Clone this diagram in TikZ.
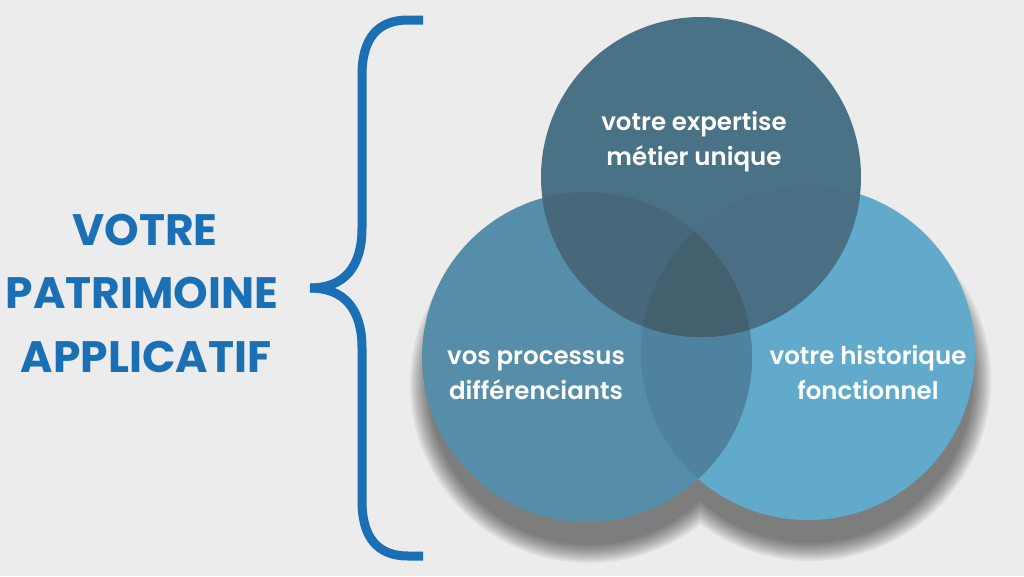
\documentclass[tikz,border=0pt]{standalone}
\usepackage{fontspec}
\setmainfont{Poppins}
\newfontfamily\semi{Poppins SemiBold}
\definecolor{bgc}{HTML}{ECECEC}
\definecolor{bluec}{HTML}{1B6FB5}
\definecolor{cT}{HTML}{4A7287}
\definecolor{cL}{HTML}{568EA9}
\definecolor{cR}{HTML}{61AACB}
\definecolor{cTL}{HTML}{46687A}
\definecolor{cTR}{HTML}{4A6F84}
\definecolor{cLR}{HTML}{4F829E}
\definecolor{cTLR}{HTML}{43606F}
\begin{document}
\begin{tikzpicture}[x=1pt,y=-1pt,
  captext/.style={text=bluec,font=\fontsize{44}{50}\selectfont\bfseries,anchor=base,inner sep=0pt},
  ctext/.style={text=white,font=\semi\fontsize{24.5}{28}\selectfont,anchor=base,inner sep=0pt},
  bracepath/.style={draw=bluec,line width=9pt,line cap=butt}]
\useasboundingbox (0,0) rectangle (1024,576);
\fill[bgc] (0,0) rectangle (1024,576);
\coordinate (oT) at (701,177);
\coordinate (oL) at (587,357);
\coordinate (oR) at (808,353);
% shadow
\foreach \e in {14,12,...,-4}{
  \fill[black,opacity=0.06] (589,384) circle[radius={(165+\e)*1pt}] (810,380) circle[radius={(167+\e)*1pt}];
}
% circles
\fill[cR] (oR) circle[radius=167pt];
\fill[cL] (oL) circle[radius=165pt];
\fill[cT] (oT) circle[radius=160pt];
\begin{scope}
  \clip (oL) circle[radius=165pt];
  \fill[cLR] (oR) circle[radius=167pt];
\end{scope}
\begin{scope}
  \clip (oT) circle[radius=160pt];
  \fill[cTL] (oL) circle[radius=165pt];
  \fill[cTR] (oR) circle[radius=167pt];
  \clip (oL) circle[radius=165pt];
  \fill[cTLR] (oR) circle[radius=167pt];
\end{scope}
% circle texts
\node[ctext] (t1) at (694,130) {votre expertise};
\node[ctext] (t2) at (694,165) {métier unique};
\node[ctext] (l1) at (536,364) {vos processus};
\node[ctext] (l2) at (536,399) {différenciants};
\node[ctext] (r1) at (868,364) {votre historique};
\node[ctext] (r2) at (868,399) {fonctionnel};
% left title
\node[captext] (p1) at (145,245) {VOTRE};
\node[captext] (p2) at (142,308) {PATRIMOINE};
\node[captext] (p3) at (146,372) {APPLICATIF};
% brace
\coordinate (tip) at (310,288);
\draw[bracepath] (423,20) -- (408,20) .. controls (378,20) and (362,38) .. (362,75) -- (362,228) .. controls (362,266) and (345,288) .. (tip);
\draw[bracepath] (423,556) -- (408,556) .. controls (378,556) and (362,538) .. (362,501) -- (362,348) .. controls (362,310) and (345,288) .. (tip);
\end{tikzpicture}
\end{document}
